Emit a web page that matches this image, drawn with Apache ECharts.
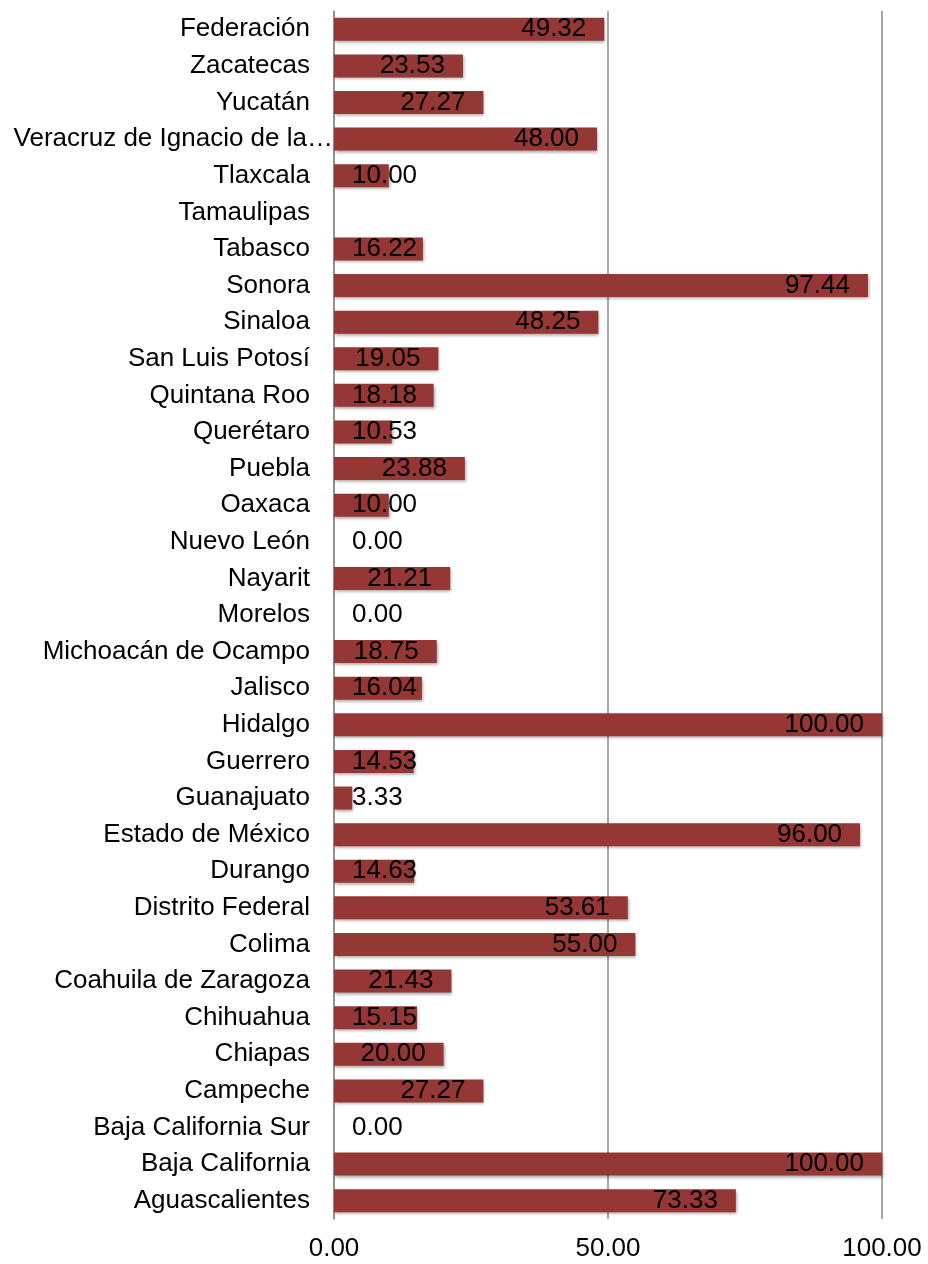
<!DOCTYPE html>
<html>
<head>
<meta charset="utf-8">
<script src="https://cdn.jsdelivr.net/npm/echarts@6/dist/echarts.min.js"></script>
<style>
html,body{margin:0;padding:0;background:#fff;}
#chart{width:928px;height:1264px;}
</style>
</head>
<body>
<div id="chart"></div>
<script>
var categories = [
  "Federación","Zacatecas","Yucatán","Veracruz de Ignacio de la…","Tlaxcala",
  "Tamaulipas","Tabasco","Sonora","Sinaloa","San Luis Potosí","Quintana Roo",
  "Querétaro","Puebla","Oaxaca","Nuevo León","Nayarit","Morelos",
  "Michoacán de Ocampo","Jalisco","Hidalgo","Guerrero","Guanajuato",
  "Estado de México","Durango","Distrito Federal","Colima",
  "Coahuila de Zaragoza","Chihuahua","Chiapas","Campeche",
  "Baja California Sur","Baja California","Aguascalientes"
];
var values = [
  49.32, 23.53, 27.27, 48.00, 10.00,
  null, 16.22, 97.44, 48.25, 19.05, 18.18,
  10.53, 23.88, 10.00, 0.00, 21.21, 0.00,
  18.75, 16.04, 100.00, 14.53, 3.33,
  96.00, 14.63, 53.61, 55.00,
  21.43, 15.15, 20.00, 27.27,
  0.00, 100.00, 73.33
];
var xTicks = [0, 50, 100];

var FONT = '"Liberation Sans", Arial, Helvetica, sans-serif';
var seriesData = values.map(function (v) {
  if (v === null) return { value: null, label: { show: false } };
  if (v < 18.5) return { value: v, label: { position: 'insideLeft', distance: 18 } };
  return { value: v };
});

var chart = echarts.init(document.getElementById('chart'), null, { renderer: 'canvas' });
chart.setOption({
  animation: false,
  backgroundColor: '#ffffff',
  grid: { left: 334, right: 46, top: 11, bottom: 45, containLabel: false },
  xAxis: {
    type: 'value',
    min: xTicks[0],
    max: xTicks[xTicks.length - 1],
    interval: xTicks[1] - xTicks[0],
    axisLine: { show: false },
    axisTick: { show: false },
    splitLine: { show: true, lineStyle: { color: '#8a8a8a', width: 1.5 } },
    axisLabel: {
      margin: 17,
      color: '#000',
      fontSize: 26,
      fontFamily: FONT,
      formatter: function (v) { return v.toFixed(2); }
    }
  },
  yAxis: {
    type: 'category',
    inverse: true,
    data: categories,
    axisLine: { show: true, lineStyle: { color: '#8a8a8a', width: 1.5 } },
    axisTick: { show: false },
    axisLabel: {
      margin: 1,
      interval: 0,
      formatter: function (v) {
        return v.charAt(v.length - 1) === '…' ? '{t|' + v + '}' : '{n|' + v + '}';
      },
      rich: {
        n: { color: '#000', fontSize: 26, fontFamily: FONT, padding: [0, 23, 0, 0] },
        t: { color: '#000', fontSize: 26, fontFamily: FONT, padding: [0, 0, 0, 0] }
      }
    }
  },
  series: [{
    type: 'bar',
    data: seriesData,
    barWidth: 23,
    itemStyle: {
      color: '#953735',
      shadowBlur: 3,
      shadowOffsetX: 1,
      shadowOffsetY: 2,
      shadowColor: 'rgba(0,0,0,0.35)'
    },
    label: {
      show: true,
      position: 'insideRight',
      distance: 18,
      color: '#000',
      fontSize: 26,
      fontFamily: FONT,
      formatter: function (p) { return p.value == null ? '' : Number(p.value).toFixed(2); }
    }
  }]
});
</script>
</body>
</html>
